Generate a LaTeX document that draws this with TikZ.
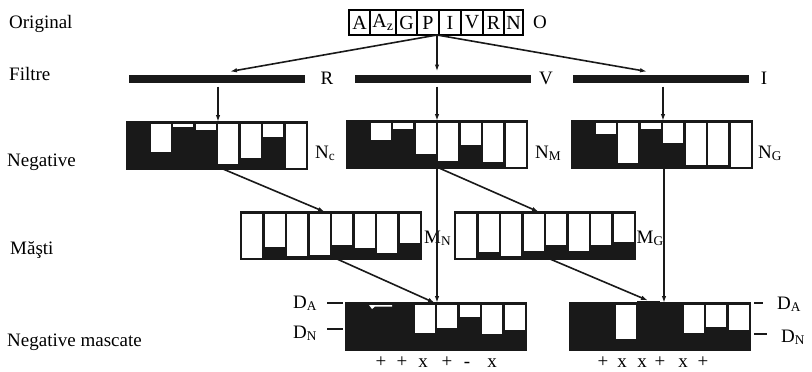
\documentclass[tikz,border=0pt]{standalone}
\usepackage{fontspec}
\setmainfont{Liberation Serif}
\usetikzlibrary{arrows.meta,calc,positioning}

% white columns hanging from the top edge of a strip, depths in pt
\newcommand{\colbars}[2]{%
  \foreach \dep [count=\i] in {#2} {
    \ifdim\dep pt>0pt
      \fill[white] ($(#1.north west)+({(\i-1)*22.5+1.3},1.6)$)
        rectangle ($(#1.north west)+({\i*22.5-1.3},{1.6+\dep})$);
    \fi
  }}

\begin{document}
\begin{tikzpicture}[x=1pt,y=-1pt,
  every node/.style={font=\fontsize{19}{22}\selectfont, inner sep=0pt},
  letter/.style={draw, line width=1.3pt, minimum height=25pt, outer sep=0pt,
    font=\fontsize{20}{22}\selectfont},
  filter/.style={fill=black!90, minimum width=176pt, minimum height=7.5pt,
    anchor=west, outer sep=0pt},
  strip/.style={draw=black!90, fill=black!90, line width=1.5pt,
    minimum width=180pt, minimum height=47pt, anchor=north west, outer sep=0pt},
  arr/.style={-{Latex[length=7pt,width=4.5pt]}, line width=1.6pt, black!90},
  tick/.style={line width=1.6pt, black!90},
]
\useasboundingbox (0,0) rectangle (812,372);

% row titles
\node[anchor=base west] (tOrig) at (9,28) {Original};
\node[anchor=base west] (tFilt) at (9,80) {Filtre};
\node[anchor=base west] (tNeg) at (7,166) {Negative};
\node[anchor=base west] (tMask) at (10,254) {Măşti};
\node[anchor=base west] (tMasc) at (7,346) {Negative mascate};

% original
\node[letter, minimum width=21pt, anchor=west] (lA) at (349,22.5) {A};
\node[letter, minimum width=26pt, right=0pt of lA] (lAz) {A\textsubscript{z}};
\node[letter, minimum width=21pt, right=0pt of lAz] (lG) {G};
\node[letter, minimum width=22pt, right=0pt of lG] (lP) {P};
\node[letter, minimum width=22pt, right=0pt of lP] (lI) {I};
\node[letter, minimum width=22pt, right=0pt of lI] (lV) {V};
\node[letter, minimum width=21pt, right=0pt of lV] (lR) {R};
\node[letter, minimum width=19pt, right=0pt of lR] (lN) {N};
\node[anchor=base] (tO) at (540,28) {O};
\coordinate (src) at (437,35);

% filters
\node[filter] (fR) at (129,79) {};
\node[filter] (fV) at (355,79) {};
\node[filter] (fI) at (573,79) {};
\node[anchor=base] (tR) at (327,84) {R};
\node[anchor=base] (tV) at (546,84) {V};
\node[anchor=base] (tI) at (764,84) {I};

% negatives
\node[strip] (Nc) at (127,122) {};
\node[strip] (NM) at (347,121) {};
\node[strip] (NG) at (572,121) {};
\colbars{Nc}{0,28,3,6,40,34,13,44}
\colbars{NM}{0,17,6,31,38,22,39,44}
\colbars{NG}{0,11,40,6,20,42,42,44}
\node[anchor=base west] (tNc) at (315,158) {N\textsubscript{c}};
\node[anchor=base west] (tNM) at (535,158) {N\textsubscript{M}};
\node[anchor=base west] (tNG) at (758,158) {N\textsubscript{G}};

% masks
\node[strip] (MN) at (241,212) {};
\node[strip] (MG) at (455,212) {};
\colbars{MN}{44,33,42,41,31,34,39,29}
\colbars{MG}{44,38,42,37,31,37,31,28}
\node[anchor=base west] (tMN) at (424,243) {M\textsubscript{N}};
\node[anchor=base west] (tMG) at (636.5,243) {M\textsubscript{G}};

% masked negatives
\node[strip] (F1) at (346,303) {};
\node[strip] (F2) at (570,303) {};
\colbars{F1}{0,0,0,28,23,12,29,25}
\colbars{F2}{0,0,34,0,0,28,22,25}
\fill[white] (369,305) -- (392,305) -- (392,306.5) -- (375,306.5)
  -- (372,309) -- cycle;
\fill[black!90] (637,300.5) rectangle (660,303);

\node[anchor=base west] (DA1) at (293,308) {D\textsubscript{A}};
\node[anchor=base west] (DN1) at (293,338) {D\textsubscript{N}};
\node[anchor=base west] (DA2) at (777,309) {D\textsubscript{A}};
\node[anchor=base west] (DN2) at (781,342) {D\textsubscript{N}};
\draw[tick] (327,303) -- (343,303);
\draw[tick] (327,329) -- (343,329);
\draw[tick] (754,303) -- (763,303);
\draw[tick] (754,334) -- (767,334);

\foreach \s/\x [count=\k] in {+/381,+/402,x/423,+/447,-/467,x/492}
  \node[anchor=base] (sa\k) at (\x,367) {\s};
\foreach \s/\x [count=\k] in {+/603,x/622,x/642,+/660,x/683,+/703}
  \node[anchor=base] (sb\k) at (\x,367) {\s};

% connectors
\draw[arr] (src) -- ($(fR.north west)+(101,-3.75)$);
\draw[arr] (src) -- ($(fV.north west)+(82,-3.75)$);
\draw[arr] (src) -- ($(fI.north west)+(74,-3.75)$);
\draw[arr] ($(fR.south west)+(89,3.75)$) -- ($(Nc.north west)+(91,0)$);
\draw[arr] ($(fV.south west)+(82,3.75)$) -- ($(NM.north west)+(90,0)$);
\draw[arr] ($(fI.south west)+(90,3.75)$) -- ($(NG.north west)+(91,0)$);
\draw[arr] ($(Nc.south west)+(96,0)$) -- ($(MN.north west)+(84,0)$);
\draw[arr] ($(NM.south west)+(92,0)$) -- ($(MG.north west)+(84,0)$);
\draw[arr] ($(NM.south west)+(90,0)$) -- ($(F1.north west)+(91,0)$);
\draw[arr] ($(NG.south west)+(92,0)$) -- ($(F2.north west)+(94,0)$);
\draw[arr] ($(MN.south west)+(96,0)$) -- ($(F1.north west)+(89,0)$);
\draw[arr] ($(MG.south west)+(95,0)$) -- ($(F2.north west)+(78,-2.5)$);
\end{tikzpicture}
\end{document}
